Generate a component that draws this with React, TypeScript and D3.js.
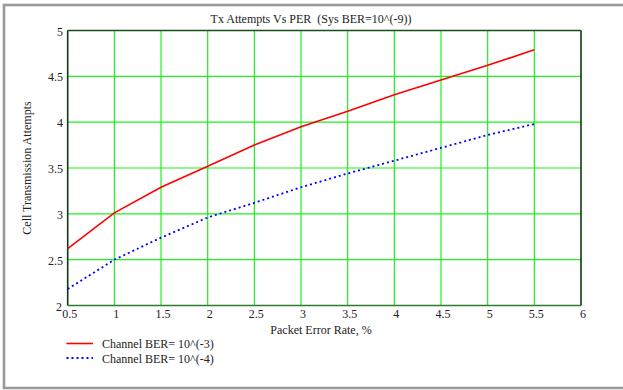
import React from "react";
import * as d3 from "d3";

// Packet error rate (%) sampled for both channel conditions
const perValues = [0.5, 1, 1.5, 2, 2.5, 3, 3.5, 4, 4.5, 5, 5.5];
// Mean cell transmission attempts, channel BER = 10^(-3)
const attemptsBer3 = [2.62, 3.01, 3.29, 3.52, 3.75, 3.95, 4.12, 4.3, 4.46, 4.62, 4.79];
// Mean cell transmission attempts, channel BER = 10^(-4)
const attemptsBer4 = [2.18, 2.5, 2.74, 2.96, 3.12, 3.29, 3.44, 3.58, 3.72, 3.86, 3.98];

const xTicks = [0.5, 1, 1.5, 2, 2.5, 3, 3.5, 4, 4.5, 5, 5.5, 6];
const yTicks = [2, 2.5, 3, 3.5, 4, 4.5, 5];
const seriesNames = ["Channel BER= 10^(-3)", "Channel BER= 10^(-4)"];

const W = 623;
const H = 390;
const FONT = "'Liberation Serif', 'Times New Roman', serif";

export default function App() {
  const x = d3.scaleLinear().domain([0.5, 6]).range([67.7, 581]);
  const y = d3.scaleLinear().domain([2, 5]).range([305.5, 30.5]);

  const line = d3
    .line<[number, number]>()
    .x((d) => x(d[0]))
    .y((d) => y(d[1]));

  const red = line(perValues.map((p, i) => [p, attemptsBer3[i]]) as [number, number][]) || "";
  const blue = line(perValues.map((p, i) => [p, attemptsBer4[i]]) as [number, number][]) || "";

  const [x0, x1] = x.range();
  const [y0, y1] = y.range();

  return (
    <div style={{ position: "fixed", left: 0, top: 0 }}>
      <svg width={W} height={H} style={{ display: "block", background: "#fff" }} fontFamily={FONT}>
        <rect x={4} y={5} width={640} height={383} fill="none" stroke="#9a9a9a" strokeWidth={2.6} />

        <text x={311} y={23} textAnchor="middle" fontSize={12} fill="#222" style={{ whiteSpace: "pre" }}>
          {"Tx Attempts Vs PER  (Sys BER=10^(-9))"}
        </text>

        {/* grid */}
        {xTicks.slice(1, -1).map((t) => (
          <line key={"gx" + t} x1={x(t)} x2={x(t)} y1={y1} y2={y0} stroke="#1ef01e" strokeWidth={1.2} />
        ))}
        {yTicks.slice(1, -1).map((t) => (
          <line key={"gy" + t} x1={x0} x2={x1} y1={y(t)} y2={y(t)} stroke="#1ef01e" strokeWidth={1.2} />
        ))}

        {/* plot frame */}
        <line x1={x0} x2={x1} y1={y1} y2={y1} stroke="#1b4d1b" strokeWidth={1.4} />
        <line x1={x0} x2={x0} y1={y1} y2={y0} stroke="#0d3a0d" strokeWidth={1.6} />
        <line x1={x1} x2={x1} y1={y1} y2={y0} stroke="#0d3a0d" strokeWidth={1.6} />
        <line x1={x0} x2={x1} y1={y0} y2={y0} stroke="#2e7a2e" strokeWidth={1.6} />

        {/* series */}
        <path d={red} fill="none" stroke="#ff0000" strokeWidth={1.6} />
        <path d={blue} fill="none" stroke="#0000ff" strokeWidth={1.8} strokeDasharray="2,3" />

        {/* y tick labels */}
        {yTicks.map((t) => (
          <text
            key={"ty" + t}
            x={t === 2 ? 62 : 63}
            y={y(t) + 5}
            textAnchor="end"
            fontSize={12}
            fill="#222"
          >
            {t}
          </text>
        ))}
        {/* x tick labels */}
        {xTicks.map((t) => (
          <text key={"tx" + t} x={x(t) + 2} y={318} textAnchor="middle" fontSize={12} fill="#222">
            {t}
          </text>
        ))}

        <text x={321} y={334} textAnchor="middle" fontSize={12} fill="#222">
          Packet Error Rate, %
        </text>
        <text
          transform={`translate(31,168) rotate(-90)`}
          textAnchor="middle"
          fontSize={12}
          fill="#222"
        >
          Cell Transmission Attempts
        </text>

        {/* legend */}
        <line x1={66.5} x2={93} y1={343.5} y2={343.5} stroke="#ff0000" strokeWidth={1.6} />
        <text x={102} y={348} fontSize={12} fill="#222">
          {seriesNames[0]}
        </text>
        <line x1={66.5} x2={93} y1={358} y2={358} stroke="#0000ff" strokeWidth={1.8} strokeDasharray="2,3" />
        <text x={102} y={363} fontSize={12} fill="#222">
          {seriesNames[1]}
        </text>
      </svg>
    </div>
  );
}
